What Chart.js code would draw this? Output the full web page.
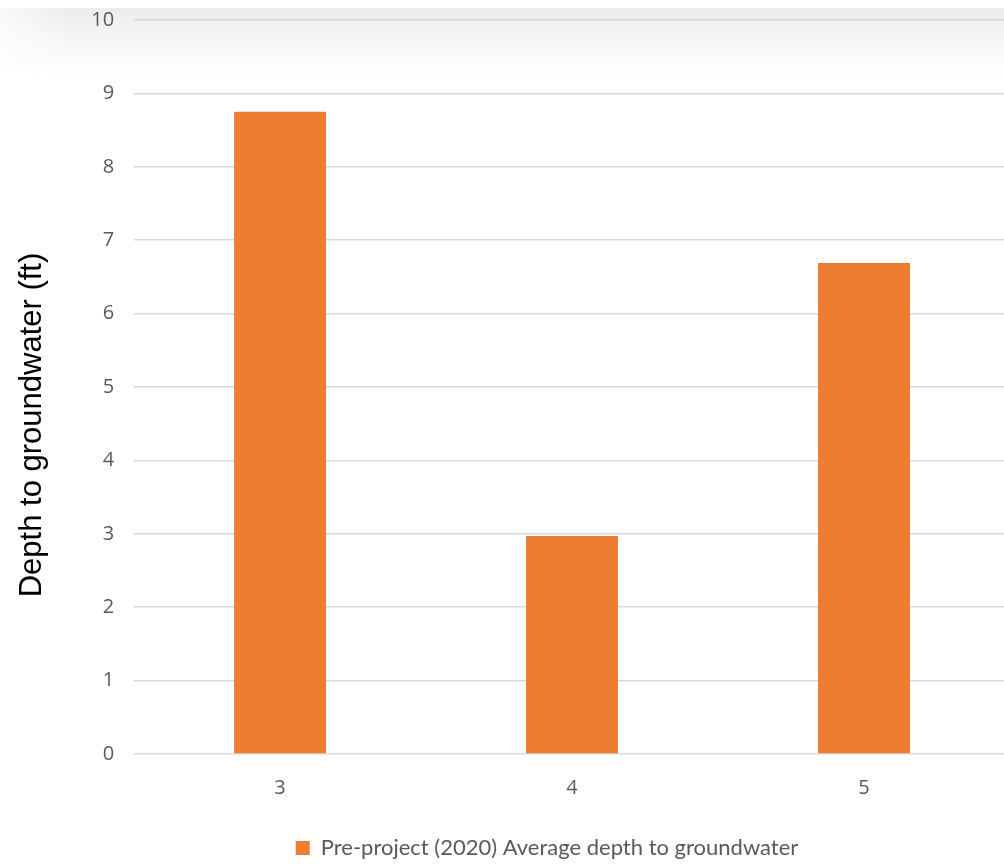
<!DOCTYPE html>
<html>
<head>
<meta charset="utf-8">
<script src="https://cdn.jsdelivr.net/npm/chart.js@4"></script>
<style>
  html, body { margin: 0; padding: 0; background: #ffffff; overflow: hidden; }
  #wrap { width: 1010px; height: 864px; position: relative; }
</style>
</head>
<body>
<div id="wrap"><canvas id="chart"></canvas></div>
<script>
// Monitoring wells and their pre-project average depth to groundwater
const wells = ["3", "4", "5"];
const depth2020 = [8.75, 2.97, 6.69];
const seriesLabel = "Pre-project (2020) Average depth to groundwater";
const axisTitle = "Depth to groundwater (ft)";

// faint grey band along the top of the canvas
const topHaze = {
  id: 'topHaze',
  beforeDraw(chart) {
    const ctx = chart.ctx;
    ctx.save();
    const g = ctx.createLinearGradient(0, 8, 0, 76);
    g.addColorStop(0, 'rgba(0,0,0,0.075)');
    g.addColorStop(0.4, 'rgba(0,0,0,0.04)');
    g.addColorStop(1, 'rgba(0,0,0,0)');
    ctx.fillStyle = g;
    ctx.fillRect(0, 8, chart.width, 68);
    const h = ctx.createLinearGradient(0, 0, 70, 0);
    h.addColorStop(0, 'rgba(255,255,255,0.7)');
    h.addColorStop(1, 'rgba(255,255,255,0)');
    ctx.fillStyle = h;
    ctx.fillRect(0, 8, 70, 68);
    ctx.restore();
  }
};

// nudge the legend row and the y-axis title into place
const LEGEND_DX = 37;
const LEGEND_DY = 5;
const YTITLE_DY = 38;
const placement = {
  id: 'placement',
  afterLayout(chart) {
    const lg = chart.legend;
    if (lg) {
      lg.left += LEGEND_DX; lg.right += LEGEND_DX;
      lg.top += LEGEND_DY; lg.bottom += LEGEND_DY;
    }
    const y = chart.scales.y;
    if (y && !y._titleShifted) {
      const orig = y.drawTitle;
      y.drawTitle = function () {
        const ctx = this.ctx;
        ctx.save();
        ctx.translate(0, YTITLE_DY);
        orig.apply(this, arguments);
        ctx.restore();
      };
      y._titleShifted = true;
    }
  }
};

new Chart(document.getElementById('chart'), {
  type: 'bar',
  data: {
    labels: wells,
    datasets: [{
      label: seriesLabel,
      data: depth2020,
      backgroundColor: '#ED7D31',
      borderWidth: 0,
      barPercentage: 0.63,
      categoryPercentage: 0.5
    }]
  },
  options: {
    responsive: true,
    maintainAspectRatio: false,
    animation: false,
    layout: { padding: { left: 10, right: 0, top: 20, bottom: 0 } },
    plugins: {
      tooltip: { enabled: false },
      legend: {
        position: 'bottom',
        labels: {
          font: { family: 'Lato', size: 22 },
          color: '#595959',
          boxWidth: 14,
          boxHeight: 14,
          padding: 0,
          useBorderRadius: false
        }
      }
    },
    scales: {
      x: {
        grid: { display: false },
        border: { display: false },
        ticks: { font: { family: 'Open Sans', size: 20 }, color: '#595959', padding: 14 },
        afterFit(axis) { axis.height += 18; }
      },
      y: {
        min: 0,
        max: 10,
        ticks: { stepSize: 1, font: { family: 'Open Sans', size: 20 }, color: '#595959', padding: 20 },
        grid: { color: '#d9d9d9', lineWidth: 1.5, drawTicks: false },
        border: { display: false },
        title: {
          display: true,
          text: axisTitle,
          font: { family: 'Liberation Sans', size: 31 },
          color: '#000000',
          padding: { bottom: 20 }
        },
        afterFit(axis) { axis.paddingTop = 0; axis.paddingBottom = 0; }
      }
    }
  },
  plugins: [topHaze, placement]
});
</script>
</body>
</html>
